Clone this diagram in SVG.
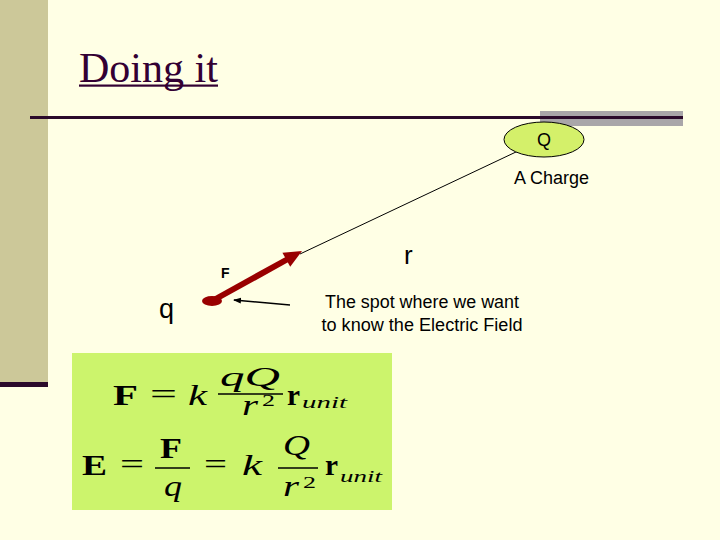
<svg xmlns="http://www.w3.org/2000/svg" width="720" height="540" viewBox="0 0 720 540">
  <defs>
    <style>
      .sans { font-family: "Liberation Sans", Arial, sans-serif; fill: #000; }
      .serif { font-family: "Liberation Serif", "Times New Roman", serif; fill: #000; }
      .b { font-weight: bold; }
      .i { font-style: italic; }
      .m { font-size: 29px; }
      .s { font-size: 17px; }
      .frac { stroke: #000; stroke-width: 1.5; }
    </style>
    <marker id="ah" markerWidth="8" markerHeight="8" refX="7" refY="4" orient="auto" markerUnits="userSpaceOnUse">
      <path d="M0,1 L8,4 L0,7 Z" fill="#000"/>
    </marker>
  </defs>

  <!-- background -->
  <rect x="0" y="0" width="720" height="540" fill="#FFFFE5"/>
  <rect x="0" y="0" width="48" height="382" fill="#CCC899"/>
  <rect x="0" y="382" width="48" height="5" fill="#2B0A2B"/>

  <!-- title -->
  <g id="title">
    <text x="79" y="82" font-family="'Liberation Serif', 'Times New Roman', serif" font-size="42" fill="#330033">Doing it</text>
    <rect x="79" y="84.5" width="139" height="2.2" fill="#330033"/>
  </g>

  <!-- rule -->
  <rect x="540" y="111" width="143" height="15" fill="#A9A6A9"/>
  <line x1="30" y1="117.5" x2="683" y2="117.5" stroke="#2B0A2B" stroke-width="3"/>

  <!-- connectors -->
  <g id="connectors">
    <line x1="535" y1="143" x2="300" y2="254" stroke="#000" stroke-width="1"/>
    <line x1="212" y1="301" x2="287" y2="259.5" stroke="#990000" stroke-width="6"/>
    <polygon points="302,251 290.2,266.7 282.4,252.7" fill="#990000"/>
    <line x1="290" y1="305" x2="234" y2="300" stroke="#000" stroke-width="1.6" marker-end="url(#ah)"/>
  </g>

  <g id="charge-Q">
    <ellipse cx="544" cy="139.5" rx="40" ry="17.5" fill="#D4F06A" stroke="#000" stroke-width="1"/>
    <text x="544" y="146" class="sans" font-size="18" text-anchor="middle">Q</text>
  </g>
  <g id="label-charge">
    <text x="514" y="184" class="sans" font-size="18" textLength="75" lengthAdjust="spacingAndGlyphs">A Charge</text>
  </g>

  <g id="test-charge-q">
    <ellipse cx="212" cy="301" rx="10" ry="5" fill="#990000"/>
    <text x="159" y="318" class="sans" font-size="27">q</text>
  </g>
  <g id="label-F">
    <text x="221" y="278" class="sans b" font-size="14">F</text>
  </g>
  <g id="label-r">
    <text x="404" y="264" class="sans" font-size="26">r</text>
  </g>
  <g id="label-spot">
    <text x="422" y="308" class="sans" font-size="17.5" text-anchor="middle" textLength="194" lengthAdjust="spacingAndGlyphs">The spot where we want</text>
    <text x="422" y="331" class="sans" font-size="17.5" text-anchor="middle" textLength="201" lengthAdjust="spacingAndGlyphs">to know the Electric Field</text>
  </g>

  <!-- formulas -->
  <g id="formulas">
    <rect x="72" y="353" width="320" height="157" fill="#CCF46C"/>
    <!-- F = k qQ/r^2 r_unit -->
    <text x="113" y="405" class="serif b m" textLength="25" lengthAdjust="spacingAndGlyphs">F</text>
    <text x="150" y="404" class="serif m" textLength="27" lengthAdjust="spacingAndGlyphs">=</text>
    <text x="188" y="405" class="serif i m" textLength="19" lengthAdjust="spacingAndGlyphs">k</text>
    <text x="220" y="386" class="serif i" font-size="27" textLength="60" lengthAdjust="spacingAndGlyphs">qQ</text>
    <line x1="218" y1="394" x2="283" y2="394" class="frac"/>
    <text x="242" y="415" class="serif i m" textLength="16" lengthAdjust="spacingAndGlyphs">r</text>
    <text x="262" y="406" class="serif s" textLength="13" lengthAdjust="spacingAndGlyphs">2</text>
    <text x="287" y="405" class="serif b m" textLength="13" lengthAdjust="spacingAndGlyphs">r</text>
    <text x="302" y="408" class="serif i s" textLength="45" lengthAdjust="spacingAndGlyphs">unit</text>

    <!-- E = F/q = k Q/r^2 r_unit -->
    <text x="82" y="475" class="serif b m" textLength="25" lengthAdjust="spacingAndGlyphs">E</text>
    <text x="120" y="474" class="serif m" textLength="24" lengthAdjust="spacingAndGlyphs">=</text>
    <text x="160" y="458" class="serif b m" textLength="22" lengthAdjust="spacingAndGlyphs">F</text>
    <line x1="155" y1="468" x2="190" y2="468" class="frac"/>
    <text x="164" y="496" class="serif i m" textLength="18" lengthAdjust="spacingAndGlyphs">q</text>
    <text x="204" y="474" class="serif m" textLength="23" lengthAdjust="spacingAndGlyphs">=</text>
    <text x="242" y="475" class="serif i m" textLength="20" lengthAdjust="spacingAndGlyphs">k</text>
    <text x="283" y="455" class="serif i m" textLength="27" lengthAdjust="spacingAndGlyphs">Q</text>
    <line x1="278" y1="468" x2="318" y2="468" class="frac"/>
    <text x="283" y="496" class="serif i m" textLength="16" lengthAdjust="spacingAndGlyphs">r</text>
    <text x="303" y="488" class="serif s" textLength="13" lengthAdjust="spacingAndGlyphs">2</text>
    <text x="325" y="475" class="serif b m" textLength="13" lengthAdjust="spacingAndGlyphs">r</text>
    <text x="340" y="482" class="serif i s" textLength="42" lengthAdjust="spacingAndGlyphs">unit</text>
  </g>
</svg>
